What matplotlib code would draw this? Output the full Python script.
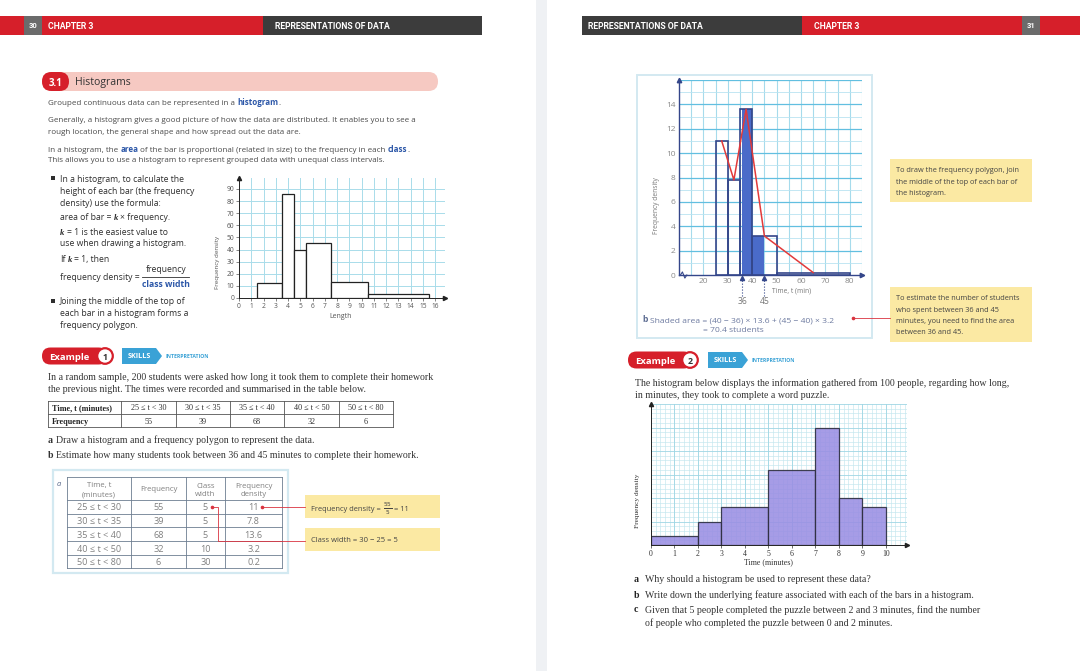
import numpy as np
import matplotlib.pyplot as plt
from matplotlib.patches import Rectangle, FancyBboxPatch, Circle, Polygon

W, H = 1080, 671

# left page histogram (Length)
length_edges = [1.5, 3.5, 4.5, 5.5, 7.5, 10.5, 15.5]
length_density = [12.5, 86, 40, 45, 13, 3]
length_xticks = list(range(0, 17))
length_yticks = list(range(0, 100, 10))

# example 1 : homework times
time_ranges = ['25 ≤ t < 30', '30 ≤ t < 35', '35 ≤ t < 40', '40 ≤ t < 50', '50 ≤ t < 80']
time_edges = [25, 30, 35, 40, 50, 80]
time_freq = [55, 39, 68, 32, 6]
class_width = [5, 5, 5, 10, 30]
freq_density = [11, 7.8, 13.6, 3.2, 0.2]
shade_edges = [36, 40, 45]
time_xticks = [20, 30, 40, 50, 60, 70, 80]
time_yticks = [0, 2, 4, 6, 8, 10, 12, 14]

# example 2 : word puzzle
puzzle_edges = [0, 2, 3, 5, 7, 8, 9, 10]
puzzle_density = [2, 5, 8, 16, 25, 10, 8]
puzzle_xticks = list(range(0, 11))

SANS = ['Open Sans', 'DejaVu Sans']
SERIF = ['Liberation Serif', 'DejaVu Serif']
HEAD = ['Liberation Sans Narrow', 'Roboto', 'DejaVu Sans']
RED = '#d61f2a'
DARK = '#3c3c3c'
NUMGREY = '#6b6b6b'
BLUE = '#2c57a8'
TXT = '#4a4a4a'
YEL = '#fbe9a3'
SKY = '#3aa2d6'
NAVY = '#34468a'
BODY = 5.8
SER = 7.1

fig = plt.figure(figsize=(W / 100, H / 100), dpi=100)
fig.patch.set_facecolor('white')
bg = fig.add_axes([0, 0, 1, 1])
bg.set_xlim(0, W)
bg.set_ylim(H, 0)
bg.axis('off')
R = fig.canvas.get_renderer()


def box_axes(x0, y0, x1, y1):
    return fig.add_axes([x0 / W, 1 - y1 / H, (x1 - x0) / W, (y1 - y0) / H])


def rect(x0, y0, x1, y1, **kw):
    bg.add_patch(Rectangle((x0, y0), x1 - x0, y1 - y0, **kw))


def put(x, y, s, size=BODY, color=TXT, family=SANS, **kw):
    return bg.text(x, y, s, fontsize=size, color=color, family=family,
                   va='center_baseline', **kw)


def rich(x, y, parts, size=BODY, family=SANS, color=TXT):
    # pieces laid out one after another; spaces at the joins become a fixed gap
    gap = size * 100 / 72 * 0.26
    for s, style in parts:
        kw = dict(fontsize=size, family=family, color=color)
        kw.update(style)
        if s.startswith(' '):
            x += gap
        t = bg.text(x, y + 0.72 * size, s.strip(' '), va='baseline', ha='left', **kw)
        x = t.get_window_extent(R).x1
        if s.endswith(' '):
            x += gap


KEY = dict(color=BLUE, weight='bold')
KIT = dict(style='italic', weight='bold', family=SERIF)

# ---------------- page furniture ----------------
rect(536, 0, 547, H, fc='#eff1f4', ec='none')

rect(0, 16, 24, 35, fc=RED, ec='none')
rect(24, 16, 42, 35, fc=NUMGREY, ec='none')
rect(42, 16, 263, 35, fc=RED, ec='none')
rect(263, 16, 482, 35, fc=DARK, ec='none')
put(33, 25.5, '30', 5.5, 'white', HEAD, weight='bold', ha='center')
put(48, 25.5, 'CHAPTER 3', 6.2, 'white', HEAD, weight='bold')
put(275, 25.5, 'REPRESENTATIONS OF DATA', 6.2, 'white', HEAD, weight='bold')

rect(582, 16, 802, 35, fc=DARK, ec='none')
rect(802, 16, 1022, 35, fc=RED, ec='none')
rect(1022, 16, 1040, 35, fc=NUMGREY, ec='none')
rect(1040, 16, 1080, 35, fc=RED, ec='none')
put(588, 25.5, 'REPRESENTATIONS OF DATA', 6.2, 'white', HEAD, weight='bold')
put(814, 25.5, 'CHAPTER 3', 6.2, 'white', HEAD, weight='bold')
put(1031, 25.5, '31', 5.5, 'white', HEAD, weight='bold', ha='center')

# ---------------- section heading ----------------
bg.add_patch(FancyBboxPatch((42, 72), 396, 19, boxstyle='round,pad=0,rounding_size=9.5',
                            fc='#f6c9c2', ec='none'))
bg.add_patch(FancyBboxPatch((42, 72), 27, 19, boxstyle='round,pad=0,rounding_size=9.5',
                            fc=RED, ec='none'))
put(55.5, 81.5, '3.1', 7, 'white', weight='bold', ha='center')
put(75, 81.5, 'Histograms', 7.6, '#333333')

rich(48, 101, [('Grouped continuous data can be represented in a ', {}), ('histogram', KEY), ('.', {})])
put(48, 119, 'Generally, a histogram gives a good picture of how the data are distributed. It enables you to see a')
put(48, 131, 'rough location, the general shape and how spread out the data are.')
rich(48, 148, [('In a histogram, the ', {}), ('area', KEY),
               (' of the bar is proportional (related in size) to the frequency in each ', {}),
               ('class', KEY), ('.', {})])
put(48, 160, 'This allows you to use a histogram to represent grouped data with unequal class intervals.')

# bullets
BT = '#2e2e2e'
BS = 6.2
rect(51, 176, 54.5, 179.5, fc=BT, ec='none')
rect(51, 299, 54.5, 302.5, fc=BT, ec='none')
put(60, 178, 'In a histogram, to calculate the', BS, BT)
put(60, 190, 'height of each bar (the frequency', BS, BT)
put(60, 202, 'density) use the formula:', BS, BT)
rich(60, 216, [('area of bar = ', {}), ('k', KIT), (' × frequency.', {})], BS, color=BT)
rich(60, 231, [('k', KIT), (' = 1 is the easiest value to', {})], BS, color=BT)
put(60, 243, 'use when drawing a histogram.', BS, BT)
rich(60, 258, [('If ', {}), ('k', KIT), (' = 1, then', {})], BS, color=BT)
put(60, 276, 'frequency density =', BS, BT)
put(166, 269, 'frequency', BS, BT, ha='center')
bg.plot([142, 189], [276.5, 276.5], color=BT, lw=0.6)
put(166, 283.5, 'class width', BS, BLUE, ha='center', weight='bold')
put(60, 301, 'Joining the middle of the top of', BS, BT)
put(60, 313, 'each bar in a histogram forms a', BS, BT)
put(60, 325, 'frequency polygon.', BS, BT)

# ---------------- left histogram ----------------
GRID1 = '#a9dcea'
ax1 = box_axes(239, 178, 445, 298)
ax1.set_xlim(0, 16.8)
ax1.set_ylim(0, 99)
for v in length_xticks[1:]:
    ax1.axvline(v, color=GRID1, lw=0.7, zorder=0)
for v in length_yticks[1:]:
    ax1.axhline(v, color=GRID1, lw=0.7, zorder=0)
ax1.bar(length_edges[:-1], length_density, width=np.diff(length_edges), align='edge',
        facecolor='white', edgecolor='#222222', lw=0.9, zorder=2)
for s in ['top', 'right']:
    ax1.spines[s].set_visible(False)
for s in ['left', 'bottom']:
    ax1.spines[s].set_color('#222222')
    ax1.spines[s].set_linewidth(0.7)
ax1.set_xticks(length_xticks)
ax1.set_yticks(length_yticks)
ax1.tick_params(labelsize=4.8, length=2, width=0.5, pad=1.5, colors='#555555')
for lab in ax1.get_xticklabels() + ax1.get_yticklabels():
    lab.set_family(SANS)
ax1.plot([0], [99], marker='^', ms=3, color='#222222', clip_on=False)
ax1.plot([16.8], [0], marker='>', ms=3, color='#222222', clip_on=False)
ax1.set_facecolor('none')
put(218, 238, 'Frequency density', 4.5, '#555555', rotation=90, ha='center')
put(341, 316, 'Length', 5.0, '#555555', ha='center')


# ---------------- example badges ----------------
def example_badge(x, y, num, cx, sx):
    bg.add_patch(FancyBboxPatch((x, y - 8.5), cx - x + 2, 17,
                                boxstyle='round,pad=0,rounding_size=8.5', fc=RED, ec='none'))
    put(x + 7, y, 'Example', 6.8, 'white', weight='bold')
    bg.add_patch(Circle((cx, y), 7.8, fc='white', ec=RED, lw=1.6))
    put(cx, y, str(num), 6.3, '#333333', ha='center', weight='bold')
    bg.add_patch(Polygon([(sx, y - 8), (sx + 34, y - 8), (sx + 40, y), (sx + 34, y + 8), (sx, y + 8)],
                         closed=True, fc=SKY, ec='none'))
    put(sx + 17, y, 'SKILLS', 5.2, 'white', ha='center', weight='bold')
    put(sx + 43, y, 'INTERPRETATION', 3.7, SKY, weight='bold')


# ---------------- example 1 ----------------
example_badge(42, 356, 1, 105, 122)

put(48, 376, 'In a random sample, 200 students were asked how long it took them to complete their homework',
    SER, '#333333', SERIF)
put(48, 389, 'the previous night. The times were recorded and summarised in the table below.',
    SER, '#333333', SERIF)

cols1 = [48, 121, 176, 230, 284, 339, 393]
rows1 = [401, 414, 427]
for xv in cols1:
    bg.plot([xv, xv], [rows1[0], rows1[-1]], color='#555555', lw=0.6)
for yv in rows1:
    bg.plot([cols1[0], cols1[-1]], [yv, yv], color='#555555', lw=0.6)
put(52, 407.5, 'Time, t (minutes)', 5.9, '#222222', SERIF, weight='bold')
put(52, 420.5, 'Frequency', 5.9, '#222222', SERIF, weight='bold')
for i, (lab, f) in enumerate(zip(time_ranges, time_freq)):
    cx = (cols1[i + 1] + cols1[i + 2]) / 2
    put(cx, 407.5, lab, 5.9, '#333333', SERIF, ha='center')
    put(cx, 420.5, str(f), 5.9, '#333333', SERIF, ha='center')

rich(48, 438, [('a', dict(weight='bold')), ('  Draw a histogram and a frequency polygon to represent the data.', {})],
     SER, SERIF, '#333333')
rich(48, 453, [('b', dict(weight='bold')), ('  Estimate how many students took between 36 and 45 minutes to complete their homework.', {})],
     SER, SERIF, '#333333')

# worked table (a)
rect(53, 470, 288, 573, fc='white', ec='#d3e9f1', lw=1.6)
put(57, 483, 'a', 5.4, '#556688', style='italic')
cols2 = [67, 131, 186, 225, 282]
rows2 = [477, 500, 514, 527, 541, 555, 568]
for xv in cols2:
    bg.plot([xv, xv], [rows2[0], rows2[-1]], color='#6d7d90', lw=0.6)
for yv in rows2:
    bg.plot([cols2[0], cols2[-1]], [yv, yv], color='#6d7d90', lw=0.6)
TG = '#808080'
heads = ['Time, t\n(minutes)', 'Frequency', 'Class\nwidth', 'Frequency\ndensity']
for i, hd in enumerate(heads):
    put((cols2[i] + cols2[i + 1]) / 2, 488.5, hd, 5.6, TG, ha='center', linespacing=1.35)
for r in range(5):
    yc = (rows2[r + 1] + rows2[r + 2]) / 2
    vals = [time_ranges[r], str(time_freq[r]), str(class_width[r]), '{:g}'.format(freq_density[r])]
    for i, v in enumerate(vals):
        put((cols2[i] + cols2[i + 1]) / 2, yc, v, 6.6, TG, ha='center')

rect(305, 495, 440, 518, fc=YEL, ec='none')
rect(305, 528, 440, 551, fc=YEL, ec='none')
rich(311, 507, [('Frequency density = ', {}), ('$\\frac{55}{5}$', dict(fontsize=6.0)), (' = 11', {})],
     5.4, color='#444444')
put(311, 540, 'Class width = 30 − 25 = 5', 5.5, '#444444')
LR = '#d9333f'
bg.plot([262, 305], [507, 507], color=LR, lw=0.6)
bg.plot([262], [507], 'o', ms=1.6, color=LR)
bg.plot([212, 218, 218, 305], [507, 507, 541, 541], color=LR, lw=0.6)
bg.plot([212], [507], 'o', ms=1.6, color=LR)

# ---------------- right page chart ----------------
rect(637, 75, 872, 338, fc='white', ec='#d3e9f1', lw=1.4)
ax2 = box_axes(679, 80, 862, 275)
ax2.set_xlim(10, 85)
ax2.set_ylim(0, 16)
ax2.set_facecolor('none')
for v in range(15, 90, 5):
    ax2.axvline(v, color='#a6dbec', lw=0.8, zorder=0)
for v in range(1, 17):
    ax2.axhline(v, color='#62bfe0' if v % 2 == 0 else '#b9e3f1', lw=0.9 if v % 2 == 0 else 0.6, zorder=0)
lo = np.searchsorted(time_edges, shade_edges[0], side='right') - 1
shade_heights = freq_density[lo:lo + len(shade_edges) - 1]
ax2.bar(shade_edges[:-1], shade_heights, width=np.diff(shade_edges), align='edge',
        color='#4a6bc9', lw=0, zorder=2)
ax2.bar(time_edges[:-1], freq_density, width=np.diff(time_edges), align='edge',
        facecolor='none', edgecolor=NAVY, lw=1.2, zorder=3)
mids = (np.array(time_edges[:-1]) + np.array(time_edges[1:])) / 2
ax2.plot(mids, freq_density, color='#e23a3a', lw=1.1, zorder=4)
for s in ['top', 'right']:
    ax2.spines[s].set_visible(False)
for s in ['left', 'bottom']:
    ax2.spines[s].set_color(NAVY)
    ax2.spines[s].set_linewidth(1.0)
ax2.set_xticks(time_xticks)
ax2.set_yticks(time_yticks)
ax2.tick_params(length=0, pad=2.5, colors='#8a8a8a', labelsize=6.0)
for lab in ax2.get_xticklabels() + ax2.get_yticklabels():
    lab.set_family(SANS)
ax2.plot([10], [16], marker='^', ms=3.2, color=NAVY, clip_on=False)
ax2.plot([85], [0], marker='>', ms=3.2, color=NAVY, clip_on=False)
ax2.plot([10.6, 11.4, 12.4, 13.2], [0, 0.25, -0.25, 0], color=NAVY, lw=0.8, clip_on=False, zorder=5)
for xv in [shade_edges[0], shade_edges[-1]]:
    ax2.plot([xv, xv], [-1.75, -0.3], ls=':', color=NAVY, lw=0.8, clip_on=False)
    ax2.plot([xv], [-0.25], marker='^', ms=3, color=NAVY, clip_on=False)
    ax2.text(xv, -2.15, str(xv), ha='center', va='center', fontsize=6.2, color='#777777', family=SANS)
ax2.text(48, -1.35, 'Time, t (min)', ha='left', va='center', fontsize=4.8, color='#777777', family=SANS)
put(657, 180, 'Frequency density', 4.8, '#777777', rotation=90, ha='center')

rich(642, 318, [('b', dict(weight='bold', color='#5a6a90')),
                ('  Shaded area = (40 − 36) × 13.6 + (45 − 40) × 3.2', {})], 6.1, color='#6d7aa0')
put(703, 330, '= 70.4 students', 6.1, '#6d7aa0')
bg.plot([853, 890], [318, 318], color=LR, lw=0.6)
bg.plot([853], [318], 'o', ms=1.6, color=LR)

NS = 5.35
rect(890, 159, 1032, 202, fc=YEL, ec='none')
put(896, 170, 'To draw the frequency polygon, join', NS, '#444444')
put(896, 181.5, 'the middle of the top of each bar of', NS, '#444444')
put(896, 192.5, 'the histogram.', NS, '#444444')
rect(890, 287, 1032, 342, fc=YEL, ec='none')
put(896, 297, 'To estimate the number of students', NS, '#444444')
put(896, 309, 'who spent between 36 and 45', NS, '#444444')
put(896, 320.5, 'minutes, you need to find the area', NS, '#444444')
put(896, 332, 'between 36 and 45.', NS, '#444444')

# ---------------- example 2 ----------------
example_badge(628, 360, 2, 690, 708)
put(635, 382, 'The histogram below displays the information gathered from 100 people, regarding how long,',
    SER, '#333333', SERIF)
put(635, 394.5, 'in minutes, they took to complete a word puzzle.', SER, '#333333', SERIF)

ax3 = box_axes(651, 404, 907, 545)
ax3.set_xlim(0, 10.9)
ax3.set_ylim(0, 30)
ax3.set_facecolor('none')
for v in np.arange(0.2, 10.9, 0.2):
    ax3.axvline(v, color='#c3e7ef', lw=0.45, zorder=0)
for v in range(1, 31):
    ax3.axhline(v, color='#9fd6e4' if v % 5 == 0 else '#c3e7ef', lw=0.6 if v % 5 == 0 else 0.45, zorder=0)
for v in puzzle_xticks[1:]:
    ax3.axvline(v, color='#9fd6e4', lw=0.6, zorder=0)
ax3.bar(puzzle_edges[:-1], puzzle_density, width=np.diff(puzzle_edges), align='edge',
        facecolor='#9a8ee3', edgecolor='#2b2b3b', lw=0.9, alpha=0.88, zorder=2)
for s in ['top', 'right']:
    ax3.spines[s].set_visible(False)
for s in ['left', 'bottom']:
    ax3.spines[s].set_color('#222222')
    ax3.spines[s].set_linewidth(0.7)
ax3.set_xticks(puzzle_xticks)
ax3.set_yticks([])
ax3.tick_params(length=2, width=0.5, pad=1.5, labelsize=5.6, colors='#333333')
for lab in ax3.get_xticklabels():
    lab.set_family(SERIF)
ax3.plot([0], [30], marker='^', ms=3, color='#222222', clip_on=False)
ax3.plot([10.9], [0], marker='>', ms=3, color='#222222', clip_on=False)
put(768, 561, 'Time (minutes)', 5.8, '#333333', SERIF, ha='center')
put(637, 475, 'Frequency density', 5.3, '#333333', SERIF, rotation=90, ha='center')

qa = [('a', 'Why should a histogram be used to represent these data?'),
      ('b', 'Write down the underlying feature associated with each of the bars in a histogram.'),
      ('c', 'Given that 5 people completed the puzzle between 2 and 3 minutes, find the number')]
for (lab, q), yv in zip(qa, [579, 594, 609]):
    put(634, yv, lab, SER, '#222222', SERIF, weight='bold')
    put(645, yv, q, SER, '#333333', SERIF)
put(645, 622, 'of people who completed the puzzle between 0 and 2 minutes.', SER, '#333333', SERIF)

fig.savefig('out.png', dpi=100)
